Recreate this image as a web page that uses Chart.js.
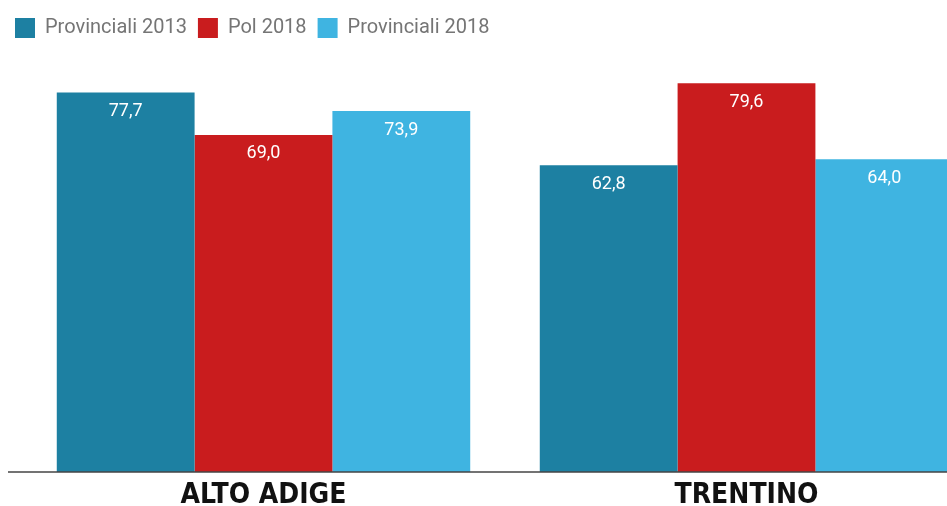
<!DOCTYPE html>
<html>
<head>
<meta charset="utf-8">
<script src="https://cdn.jsdelivr.net/npm/chart.js@4"></script>
<style>
  html, body { margin: 0; padding: 0; background: #fff; overflow: hidden; }
  #wrap { width: 1000px; height: 506px; }
</style>
</head>
<body>
<div id="wrap"><canvas id="BarChart" width="1000" height="506"></canvas></div>
<script>
// dati
const regions = ['ALTO ADIGE', 'TRENTINO'];
const seriesNames = ['Provinciali 2013', 'Pol 2018', 'Provinciali 2018'];
const provinciali2013 = [77.7, 62.8];
const pol2018 = [69.0, 79.6];
const provinciali2018 = [73.9, 64.0];

const colors = ['#1d80a2', '#c91c1e', '#3fb4e1'];

// etichette bianche dentro le barre, con la virgola
const valueLabels = {
  id: 'valueLabels',
  afterDatasetsDraw(chart) {
    const ctx = chart.ctx;
    ctx.save();
    ctx.fillStyle = '#ffffff';
    ctx.font = '18px Roboto';
    ctx.textAlign = 'center';
    ctx.textBaseline = 'middle';
    chart.data.datasets.forEach((ds, i) => {
      chart.getDatasetMeta(i).data.forEach((bar, j) => {
        ctx.fillText(ds.data[j].toFixed(1).replace('.', ','), bar.x, bar.y + 19);
      });
    });
    ctx.restore();
  }
};

// linea di base su tutta la larghezza
const baseLine = {
  id: 'baseLine',
  afterDatasetsDraw(chart) {
    const ctx = chart.ctx;
    const y = chart.scales.y.getPixelForValue(0);
    ctx.save();
    ctx.strokeStyle = '#444';
    ctx.lineWidth = 1.5;
    ctx.beginPath();
    ctx.moveTo(8, y);
    ctx.lineTo(chart.width, y);
    ctx.stroke();
    ctx.restore();
  }
};

const data = {
  labels: regions,
  datasets: [
    { label: seriesNames[0], data: provinciali2013, backgroundColor: colors[0] },
    { label: seriesNames[1], data: pol2018, backgroundColor: colors[1] },
    { label: seriesNames[2], data: provinciali2018, backgroundColor: colors[2] }
  ]
};

const config = {
  type: 'bar',
  data: data,
  options: {
    responsive: false,
    animation: false,
    categoryPercentage: 0.856,
    barPercentage: 1,
    layout: { padding: { left: 4, right: 12, top: 7, bottom: -6 } },
    plugins: {
      legend: {
        position: 'top',
        align: 'start',
        labels: {
          boxWidth: 20,
          boxHeight: 20,
          padding: 11,
          color: '#757575',
          font: { family: 'Roboto', size: 20 }
        }
      },
      tooltip: { enabled: false }
    },
    scales: {
      x: {
        grid: { display: false },
        border: { display: false },
        ticks: {
          color: '#111',
          padding: 2,
          font: { family: "'Liberation Sans Narrow', 'DejaVu Sans Condensed', sans-serif", size: 28, weight: 'bold', lineHeight: 1 }
        }
      },
      y: {
        min: 0,
        max: 86.8,
        display: true,
        ticks: { display: false },
        grid: { display: false },
        border: { display: false },
        afterFit(scale) { scale.width = 18; }
      }
    }
  },
  plugins: [valueLabels, baseLine]
};

new Chart(document.getElementById('BarChart'), config);
</script>
</body>
</html>
